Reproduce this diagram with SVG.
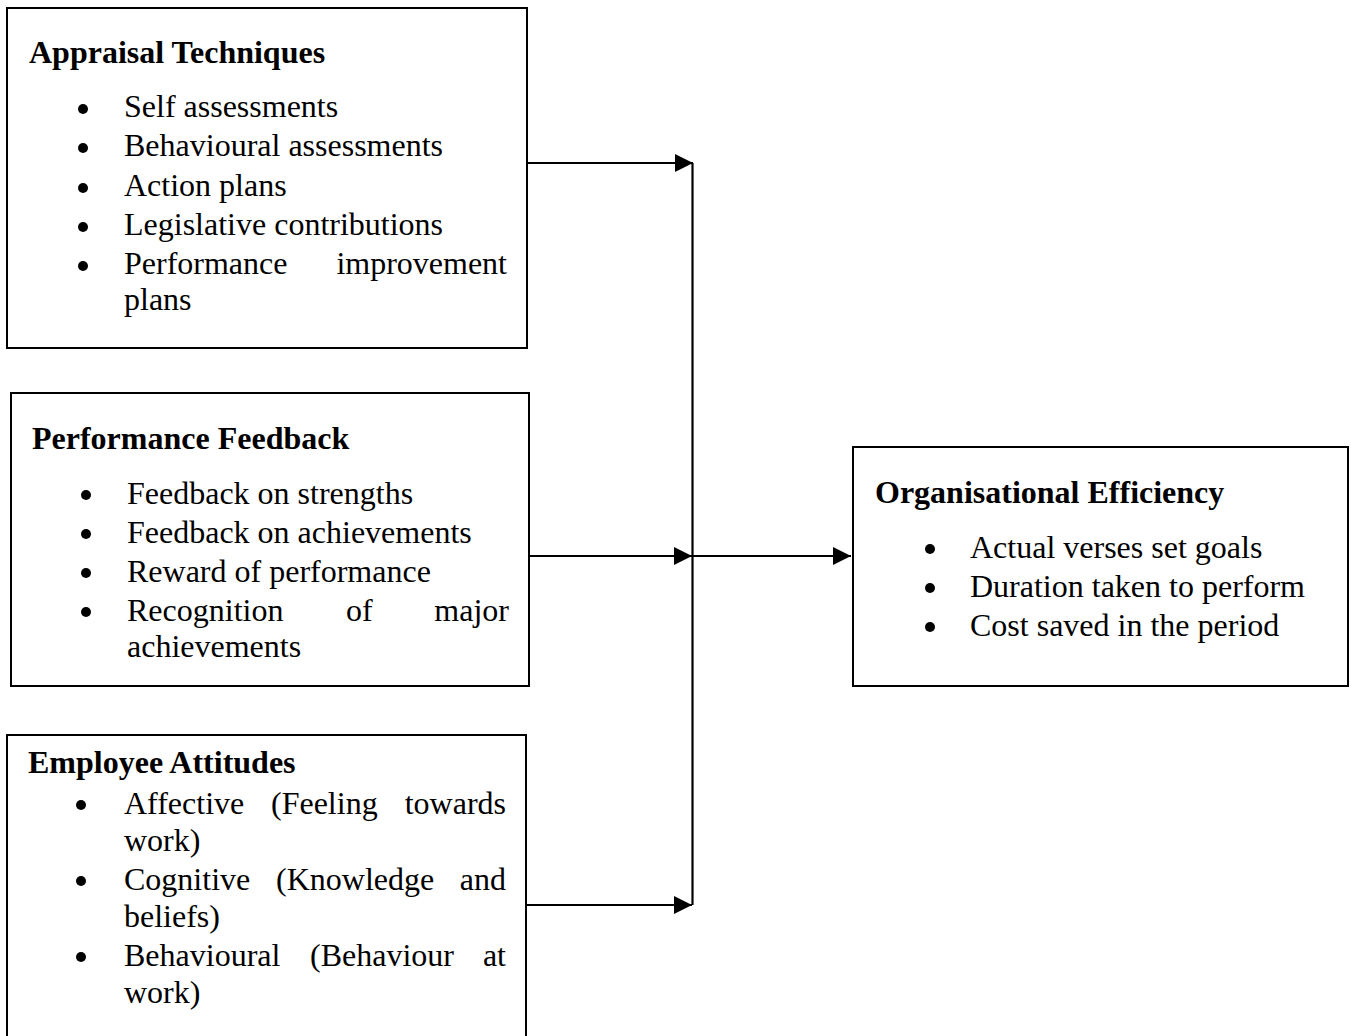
<svg xmlns="http://www.w3.org/2000/svg" width="1351" height="1036" viewBox="0 0 1351 1036">
<style>
.box{fill:#fff;stroke:#000;stroke-width:2}
.t{font-family:"Liberation Serif","Times New Roman",serif;font-size:32px;fill:#000}
.h{font-weight:bold}
.b{fill:#000}
.c{stroke:#000;stroke-width:2.2;fill:none}
</style>
<defs>
<marker id="ah" markerUnits="userSpaceOnUse" markerWidth="18" markerHeight="18" viewBox="0 0 16 16" refX="16" refY="8" orient="auto">
<path d="M0,0 L16,8 L0,16 Z" fill="#000"/>
</marker>
</defs>
<rect width="1351" height="1036" fill="#fff"/>
<g id="connectors">
<line class="c" x1="692.5" y1="163" x2="692.5" y2="905"/>
<line class="c" x1="527" y1="163" x2="693" y2="163" marker-end="url(#ah)"/>
<line class="c" x1="529" y1="556" x2="692" y2="556" marker-end="url(#ah)"/>
<line class="c" x1="526" y1="905" x2="692" y2="905" marker-end="url(#ah)"/>
<line class="c" x1="692" y1="556" x2="851" y2="556" marker-end="url(#ah)"/>
</g>
<g id="appraisal">
<rect class="box" x="7" y="8" width="520" height="340"/>
<text class="t h" x="29" y="63">Appraisal Techniques</text>
<circle class="b" cx="83" cy="109" r="5"/>
<circle class="b" cx="83" cy="148" r="5"/>
<circle class="b" cx="83" cy="188" r="5"/>
<circle class="b" cx="83" cy="227" r="5"/>
<circle class="b" cx="83" cy="266" r="5"/>
<text class="t" x="124" y="117">Self assessments</text>
<text class="t" x="124" y="156">Behavioural assessments</text>
<text class="t" x="124" y="196">Action plans</text>
<text class="t" x="124" y="235">Legislative contributions</text>
<text class="t" x="124" y="274">Performance</text>
<text class="t" x="507" y="274" text-anchor="end">improvement</text>
<text class="t" x="124" y="310">plans</text>
</g>
<g id="feedback">
<rect class="box" x="11" y="393" width="518" height="293"/>
<text class="t h" x="32" y="449">Performance Feedback</text>
<circle class="b" cx="86" cy="495" r="5"/>
<circle class="b" cx="86" cy="534" r="5"/>
<circle class="b" cx="86" cy="573" r="5"/>
<circle class="b" cx="86" cy="612" r="5"/>
<text class="t" x="127" y="504">Feedback on strengths</text>
<text class="t" x="127" y="543">Feedback on achievements</text>
<text class="t" x="127" y="582">Reward of performance</text>
<text class="t" x="127" y="621">Recognition</text>
<text class="t" x="346" y="621">of</text>
<text class="t" x="509" y="621" text-anchor="end">major</text>
<text class="t" x="127" y="657">achievements</text>
</g>
<g id="attitudes">
<rect class="box" x="7" y="735" width="519" height="310"/>
<text class="t h" x="28" y="773">Employee Attitudes</text>
<circle class="b" cx="81" cy="805" r="5"/>
<circle class="b" cx="81" cy="881" r="5"/>
<circle class="b" cx="81" cy="957" r="5"/>
<text class="t" x="124" y="814">Affective</text>
<text class="t" x="271" y="814">(Feeling</text>
<text class="t" x="506" y="814" text-anchor="end">towards</text>
<text class="t" x="124" y="851">work)</text>
<text class="t" x="124" y="890">Cognitive</text>
<text class="t" x="276" y="890">(Knowledge</text>
<text class="t" x="506" y="890" text-anchor="end">and</text>
<text class="t" x="124" y="927">beliefs)</text>
<text class="t" x="124" y="966">Behavioural</text>
<text class="t" x="310" y="966">(Behaviour</text>
<text class="t" x="506" y="966" text-anchor="end">at</text>
<text class="t" x="124" y="1003">work)</text>
</g>
<g id="efficiency">
<rect class="box" x="853" y="447" width="495" height="239"/>
<text class="t h" x="875" y="503">Organisational Efficiency</text>
<circle class="b" cx="930" cy="549" r="5"/>
<circle class="b" cx="930" cy="588" r="5"/>
<circle class="b" cx="930" cy="627" r="5"/>
<text class="t" x="970" y="558">Actual verses set goals</text>
<text class="t" x="970" y="597">Duration taken to perform</text>
<text class="t" x="970" y="636">Cost saved in the period</text>
</g>
</svg>
